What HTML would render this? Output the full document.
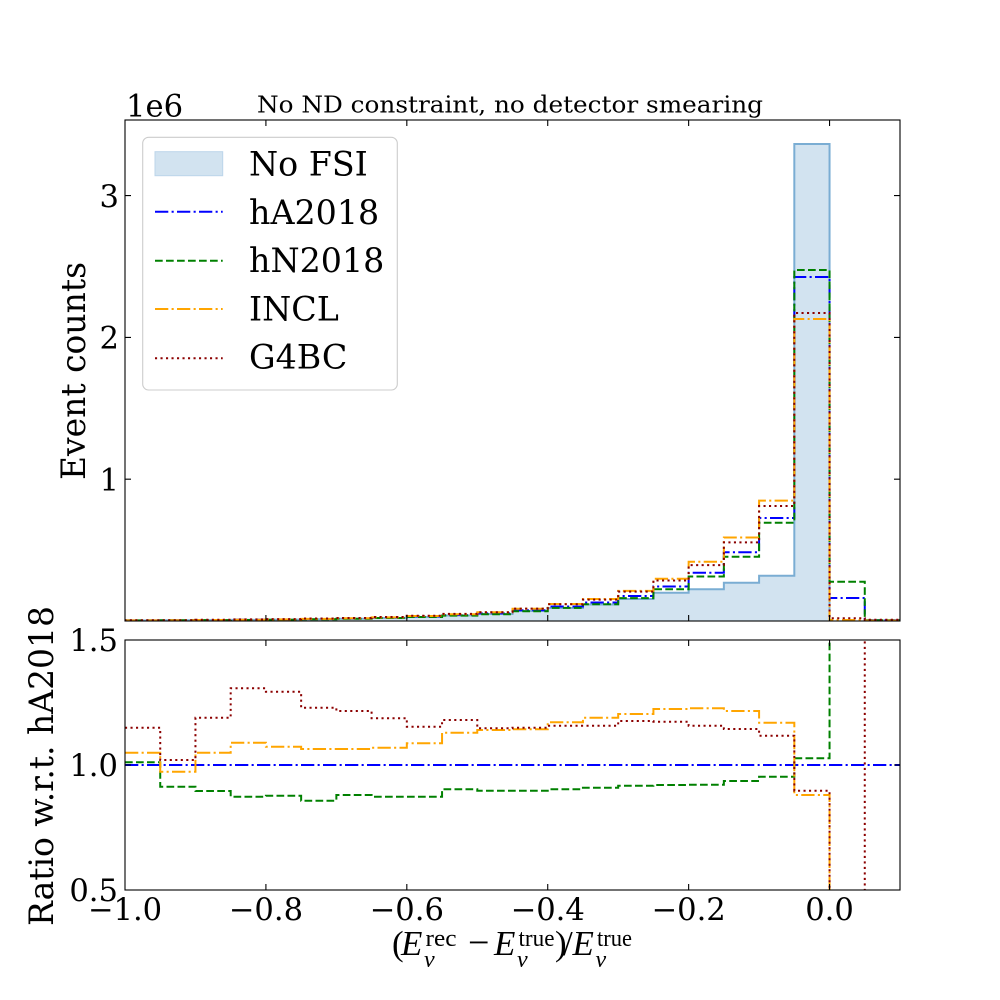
<!DOCTYPE html>
<html><head><meta charset="utf-8"><style>
html,body{margin:0;padding:0;background:#fff;}
svg{display:block;}
.tk{font-family:"DejaVu Serif","Liberation Serif",serif;font-size:30.6px;fill:#000;}
.lg{font-family:"DejaVu Serif","Liberation Serif",serif;font-size:33.3px;fill:#000;}
.mt{font-family:"Liberation Serif","DejaVu Serif",serif;fill:#000;}
</style></head><body>
<svg width="1000" height="1000" viewBox="0 0 1000 1000" xmlns="http://www.w3.org/2000/svg">
<rect x="0" y="0" width="1000" height="1000" fill="#fff"/>
<defs>
<clipPath id="ct"><rect x="125" y="120" width="775" height="501"/></clipPath>
<clipPath id="cr"><rect x="125" y="640" width="775" height="250"/></clipPath>
</defs>

<!-- TOP PANEL -->
<g clip-path="url(#ct)">
<path d="M125,621 V620.5 H160.23 V620.3 H195.45 V620.1 H230.68 V619.9 H265.91 V619.6 H301.14 V619.2 H336.36 V618.8 H371.59 V618 H406.82 V617 H442.05 V615.5 H477.27 V614 H512.5 V611 H547.73 V608 H582.95 V604.5 H618.18 V599 H653.41 V592.7 H688.64 V589.3 H723.86 V582.7 H759.09 V575.7 H794.32 V144 H829.55 V621 Z" fill="#d2e3f0" stroke="none"/>
<path d="M125,621 V620.5 H160.23 V620.3 H195.45 V620.1 H230.68 V619.9 H265.91 V619.6 H301.14 V619.2 H336.36 V618.8 H371.59 V618 H406.82 V617 H442.05 V615.5 H477.27 V614 H512.5 V611 H547.73 V608 H582.95 V604.5 H618.18 V599 H653.41 V592.7 H688.64 V589.3 H723.86 V582.7 H759.09 V575.7 H794.32 V144 H829.55 V621" fill="none" stroke="#7aadd3" stroke-width="2"/>
<path d="M125,621 V620.4 H160.23 V620.2 H195.45 V620 H230.68 V619.8 H265.91 V619.5 H301.14 V619 H336.36 V618.5 H371.59 V617.6 H406.82 V616.4 H442.05 V615 H477.27 V613.4 H512.5 V610.2 H547.73 V606.5 H582.95 V602.5 H618.18 V596 H653.41 V586.5 H688.64 V572.7 H723.86 V552.3 H759.09 V518 H794.32 V277 H829.55 V598 H864.77 V620.2 H900 V621" fill="none" stroke="#0000ff" stroke-width="2" stroke-dasharray="13.3,3.3,2.1,3.3"/>
<path d="M125,621 V620.4 H160.23 V620.3 H195.45 V620.1 H230.68 V619.95 H265.91 V619.7 H301.14 V619.3 H336.36 V618.8 H371.59 V618 H406.82 V617 H442.05 V615.6 H477.27 V614.2 H512.5 V611.3 H547.73 V607.9 H582.95 V604.2 H618.18 V598.1 H653.41 V589.3 H688.64 V576.5 H723.86 V556.7 H759.09 V522.8 H794.32 V270 H829.55 V581.7 H864.77 V620.3 H900 V621" fill="none" stroke="#008000" stroke-width="2" stroke-dasharray="7.7,3.3"/>
<path d="M125,621 V620.4 H160.23 V620.2 H195.45 V619.95 H230.68 V619.7 H265.91 V619.4 H301.14 V618.9 H336.36 V618.3 H371.59 V617.4 H406.82 V616 H442.05 V614.2 H477.27 V612.3 H512.5 V608.7 H547.73 V604 H582.95 V599 H618.18 V590.9 H653.41 V578.8 H688.64 V561.7 H723.86 V537.5 H759.09 V500.6 H794.32 V319 H829.55 V620 H864.77 V620.6 H900 V621" fill="none" stroke="#ffa500" stroke-width="2" stroke-dasharray="13.3,3.3,2.1,3.3"/>
<path d="M125,621 V620.3 H160.23 V620.2 H195.45 V619.8 H230.68 V619.4 H265.91 V619.1 H301.14 V618.5 H336.36 V618 H371.59 V617 H406.82 V615.7 H442.05 V613.9 H477.27 V612.3 H512.5 V608.6 H547.73 V604.2 H582.95 V599.6 H618.18 V591.6 H653.41 V580.5 H688.64 V565.1 H723.86 V542.4 H759.09 V506 H794.32 V313 H829.55 V618.3 H864.77 V619.7 H900 V621" fill="none" stroke="#8b0000" stroke-width="2" stroke-dasharray="2.1,3.4"/>
</g>
<rect x="125" y="120" width="775" height="501" fill="none" stroke="#000" stroke-width="1.1"/>
<!-- top ticks -->
<g stroke="#000" stroke-width="1.1">
<path d="M265.91,621 V615 M406.82,621 V615 M547.73,621 V615 M688.64,621 V615 M829.55,621 V615"/>
<path d="M265.91,120 V126 M406.82,120 V126 M547.73,120 V126 M688.64,120 V126 M829.55,120 V126"/>
<path d="M125,479.2 H131 M125,337.4 H131 M125,195.6 H131"/>
<path d="M900,479.2 H894 M900,337.4 H894 M900,195.6 H894"/>
</g>
<text class="tk" x="119" y="206.8" text-anchor="end">3</text>
<text class="tk" x="119" y="348.6" text-anchor="end">2</text>
<text class="tk" x="119" y="490.4" text-anchor="end">1</text>
<text class="tk" x="126" y="116.5">1e6</text>
<text class="tk" x="257" y="112.3" style="font-size:23.6px" textLength="506" lengthAdjust="spacingAndGlyphs">No ND constraint, no detector smearing</text>
<text class="lg" transform="translate(85,371) rotate(-90)" text-anchor="middle" textLength="218" lengthAdjust="spacingAndGlyphs">Event counts</text>

<!-- legend -->
<rect x="142.7" y="137.3" width="254.6" height="252.7" rx="6" ry="6" fill="#fff" fill-opacity="0.8" stroke="#cccccc" stroke-width="1.1"/>
<rect x="155" y="151.7" width="67.7" height="24" fill="#d2e3f0" stroke="#bcd5ea" stroke-width="1"/>
<path d="M155,211.7 H222.7" stroke="#0000ff" stroke-width="2" stroke-dasharray="13.3,3.3,2.1,3.3"/>
<path d="M155,260.7 H222.7" stroke="#008000" stroke-width="2" stroke-dasharray="7.7,3.3"/>
<path d="M155,309 H222.7" stroke="#ffa500" stroke-width="2" stroke-dasharray="13.3,3.3,2.1,3.3"/>
<path d="M155,358.3 H222.7" stroke="#8b0000" stroke-width="2" stroke-dasharray="2.1,3.4"/>
<text class="lg" x="249" y="175.6">No FSI</text>
<text class="lg" x="249" y="223.8">hA2018</text>
<text class="lg" x="249" y="272.1">hN2018</text>
<text class="lg" x="249" y="320.3">INCL</text>
<text class="lg" x="249" y="368.5">G4BC</text>

<!-- RATIO PANEL -->
<g clip-path="url(#cr)">
<path d="M125,765 H900" fill="none" stroke="#0000ff" stroke-width="2" stroke-dasharray="13.3,3.3,2.1,3.3"/>
<path d="M125,762.25 H160.23 V786.75 H195.45 V791 H230.68 V796.75 H265.91 V795.75 H301.14 V800.75 H336.36 V795 H371.59 V796.75 H442.05 V789.25 H477.27 V790.75 H547.73 V789.25 H582.95 V787.75 H618.18 V785.75 H653.41 V785 H688.64 V784.75 H723.86 V781 H759.09 V776.75 H794.32 V758.25 H829.55 V500 H900" fill="none" stroke="#008000" stroke-width="2" stroke-dasharray="7.7,3.3"/>
<path d="M125,752.75 H160.23 V771.75 H195.45 V752.75 H230.68 V742.75 H265.91 V746.75 H301.14 V749 H371.59 V747.75 H406.82 V743.25 H442.05 V732.75 H477.27 V730 H512.5 V729.25 H547.73 V722.25 H582.95 V717.75 H618.18 V714 H653.41 V709 H688.64 V708.25 H723.86 V711 H759.09 V722.75 H794.32 V795 H829.55 V1000 H900" fill="none" stroke="#ffa500" stroke-width="2" stroke-dasharray="13.3,3.3,2.1,3.3"/>
<path d="M125,727.75 H160.23 V760 H195.45 V717.75 H230.68 V688.25 H265.91 V691.75 H301.14 V707.75 H336.36 V711 H371.59 V718.25 H406.82 V726.75 H442.05 V720 H477.27 V728.25 H512.5 V727.75 H547.73 V725.75 H618.18 V721 H653.41 V721.75 H688.64 V725.75 H723.86 V729 H759.09 V735.75 H794.32 V790.75 H829.55 V1000 H864.77 V500 H900" fill="none" stroke="#8b0000" stroke-width="2" stroke-dasharray="2.1,3.4"/>
</g>
<rect x="125" y="640" width="775" height="250" fill="none" stroke="#000" stroke-width="1.1"/>
<g stroke="#000" stroke-width="1.1">
<path d="M265.91,890 V884 M406.82,890 V884 M547.73,890 V884 M688.64,890 V884 M829.55,890 V884"/>
<path d="M265.91,640 V646 M406.82,640 V646 M547.73,640 V646 M688.64,640 V646 M829.55,640 V646"/>
<path d="M125,765 H131 M900,765 H894"/>
</g>
<text class="tk" x="118" y="651.2" text-anchor="end">1.5</text>
<text class="tk" x="118" y="776.2" text-anchor="end">1.0</text>
<text class="tk" x="118" y="901.2" text-anchor="end">0.5</text>

<text class="tk" x="125" y="920" text-anchor="middle">−1.0</text>
<text class="tk" x="265.91" y="920" text-anchor="middle">−0.8</text>
<text class="tk" x="406.82" y="920" text-anchor="middle">−0.6</text>
<text class="tk" x="547.73" y="920" text-anchor="middle">−0.4</text>
<text class="tk" x="688.64" y="920" text-anchor="middle">−0.2</text>
<text class="tk" x="829.55" y="920" text-anchor="middle">0.0</text>

<text class="lg" transform="translate(53,766) rotate(-90)" text-anchor="middle" textLength="320" lengthAdjust="spacingAndGlyphs">Ratio w.r.t. hA2018</text>

<!-- x label math -->
<g class="mt">
<text x="392" y="955" style="font-size:35px">(</text>
<text x="401" y="955" style="font-size:35px;font-style:italic">E</text>
<text x="425.5" y="946" style="font-size:24px" textLength="31" lengthAdjust="spacingAndGlyphs">rec</text>
<text x="424" y="967" style="font-size:24px;font-style:italic">ν</text>
<text x="468" y="955" style="font-size:38px">−</text>
<text x="494" y="955" style="font-size:35px;font-style:italic">E</text>
<text x="518.5" y="946" style="font-size:24px" textLength="36" lengthAdjust="spacingAndGlyphs">true</text>
<text x="517" y="967" style="font-size:24px;font-style:italic">ν</text>
<text x="555" y="955" style="font-size:35px">)</text>
<text x="563" y="955" style="font-size:35px">/</text>
<text x="572.5" y="955" style="font-size:35px;font-style:italic">E</text>
<text x="597" y="946" style="font-size:24px" textLength="35" lengthAdjust="spacingAndGlyphs">true</text>
<text x="595.5" y="967" style="font-size:24px;font-style:italic">ν</text>
</g>
</svg>
</body></html>
